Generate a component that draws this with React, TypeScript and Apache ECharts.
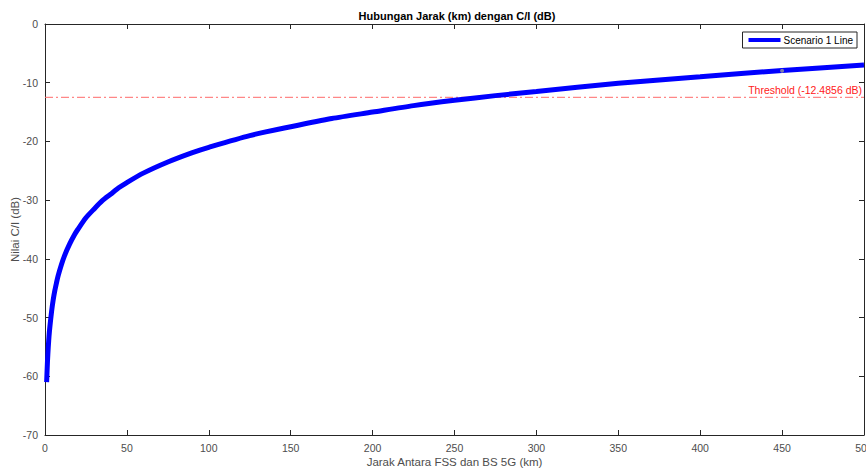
import React, { useEffect, useRef } from "react";
import * as echarts from "echarts";

const distanceKm = [1, 1.5, 2, 2.5, 3, 4, 5, 6, 7, 8, 10, 12, 15, 18, 20, 25, 30, 35, 40, 45, 50, 60, 75, 90, 100, 125, 150, 175, 200, 225, 250, 275, 300, 350, 400, 450, 500];
const ciDb = [-61, -57.5, -55, -53, -51.5, -49, -47, -45.4, -44.1, -42.9, -41, -39.4, -37.5, -35.9, -35, -33, -31.5, -30.1, -29, -27.9, -27, -25.4, -23.5, -21.9, -21, -19, -17.5, -16.1, -15, -13.9, -13, -12.2, -11.5, -10.1, -9, -7.9, -7];
const thresholdDb = -12.4856;
const thresholdRange = [0, 500];
const markerPoint = [450, -7.95];
const xTicks = { min: 0, max: 500, interval: 50 };
const yTicks = { min: -70, max: 0, interval: 10 };

const FONT = "'Liberation Sans', Arial, Helvetica, sans-serif";
const AXIS_COLOR = "#262626";
const LABEL_COLOR = "#4d4d4d";

export default function App() {
  const ref = useRef<HTMLDivElement>(null);
  useEffect(() => {
    if (!ref.current) return;
    const chart = echarts.init(ref.current, undefined, { renderer: "svg" });
    const axisCommon = {
      axisLine: { show: true, onZero: false, lineStyle: { color: AXIS_COLOR, width: 1 } },
      axisTick: { show: true, inside: true, length: 5, lineStyle: { color: AXIS_COLOR } },
      splitLine: { show: false },
    };
    chart.setOption({
      animation: false,
      backgroundColor: "#ffffff",
      textStyle: { fontFamily: FONT },
      title: {
        text: "Hubungan Jarak (km) dengan C/I (dB)",
        left: 452,
        top: 5,
        textAlign: "center",
        textStyle: { fontFamily: FONT, fontSize: 11, fontWeight: "bold", color: "#000" },
      },
      legend: {
        data: ["Scenario 1 Line"],
        right: 9,
        top: 32,
        icon: "rect",
        itemWidth: 32,
        itemHeight: 4,
        itemGap: 4,
        padding: [3, 4, 3, 6],
        borderColor: AXIS_COLOR,
        borderWidth: 1,
        borderRadius: 0,
        backgroundColor: "#fff",
        textStyle: { fontFamily: FONT, fontSize: 10, color: "#000", padding: [0, 0, 0, -2] },
      },
      grid: { left: 45, right: 2, top: 24, bottom: 35, containLabel: false, outerBoundsMode: "none" },
      xAxis: [
        {
          type: "value",
          ...xTicks,
          position: "bottom",
          name: "Jarak Antara FSS dan BS 5G (km)",
          nameLocation: "middle",
          nameGap: 21,
          nameMoveOverlap: false,
          nameTextStyle: { fontFamily: FONT, fontSize: 11.5, color: LABEL_COLOR },
          axisLabel: { fontFamily: FONT, fontSize: 10.5, color: LABEL_COLOR, margin: 7 },
          ...axisCommon,
        },
        {
          type: "value",
          ...xTicks,
          position: "top",
          axisLabel: { show: false },
          ...axisCommon,
        },
      ],
      yAxis: [
        {
          type: "value",
          ...yTicks,
          position: "left",
          name: "Nilai C/I (dB)",
          nameLocation: "middle",
          nameGap: 24,
          nameMoveOverlap: false,
          nameRotate: 90,
          nameTextStyle: { fontFamily: FONT, fontSize: 11.5, color: LABEL_COLOR },
          axisLabel: { fontFamily: FONT, fontSize: 10.5, color: LABEL_COLOR, margin: 7 },
          ...axisCommon,
        },
        {
          type: "value",
          ...yTicks,
          position: "right",
          axisLabel: { show: false },
          ...axisCommon,
        },
      ],
      series: [
        {
          name: "Threshold",
          type: "line",
          data: [
            [thresholdRange[0], thresholdDb],
            {
              value: [thresholdRange[1], thresholdDb],
              label: {
                show: true,
                position: "top",
                align: "right",
                offset: [-2, 4],
                formatter: "Threshold (" + thresholdDb + " dB)",
                color: "#ff2020",
                fontFamily: FONT,
                fontSize: 10.5,
              },
            },
          ],
          showSymbol: true,
          symbol: "circle",
          symbolSize: 1,
          lineStyle: { color: "#ff6a6a", width: 1, type: [8, 3, 2, 3] },
          itemStyle: { color: "rgba(255,255,255,0)" },
          emphasis: { disabled: true },
          silent: true,
          z: 2,
        },
        {
          name: "Scenario 1 Line",
          type: "line",
          data: distanceKm.map((d, i) => [d, ciDb[i]]),
          smooth: 0.25,
          showSymbol: false,
          lineStyle: { color: "#0000ff", width: 5 },
          itemStyle: { color: "#0000ff" },
          z: 3,
        },
        {
          name: "marker",
          type: "scatter",
          data: [markerPoint],
          symbol: "circle",
          symbolSize: 4,
          itemStyle: { color: "#9a9a9a" },
          z: 4,
        },
      ],
    });
    return () => chart.dispose();
  }, []);
  return <div ref={ref} style={{ position: "fixed", left: 0, top: 0, width: 866, height: 470 }} />;
}
